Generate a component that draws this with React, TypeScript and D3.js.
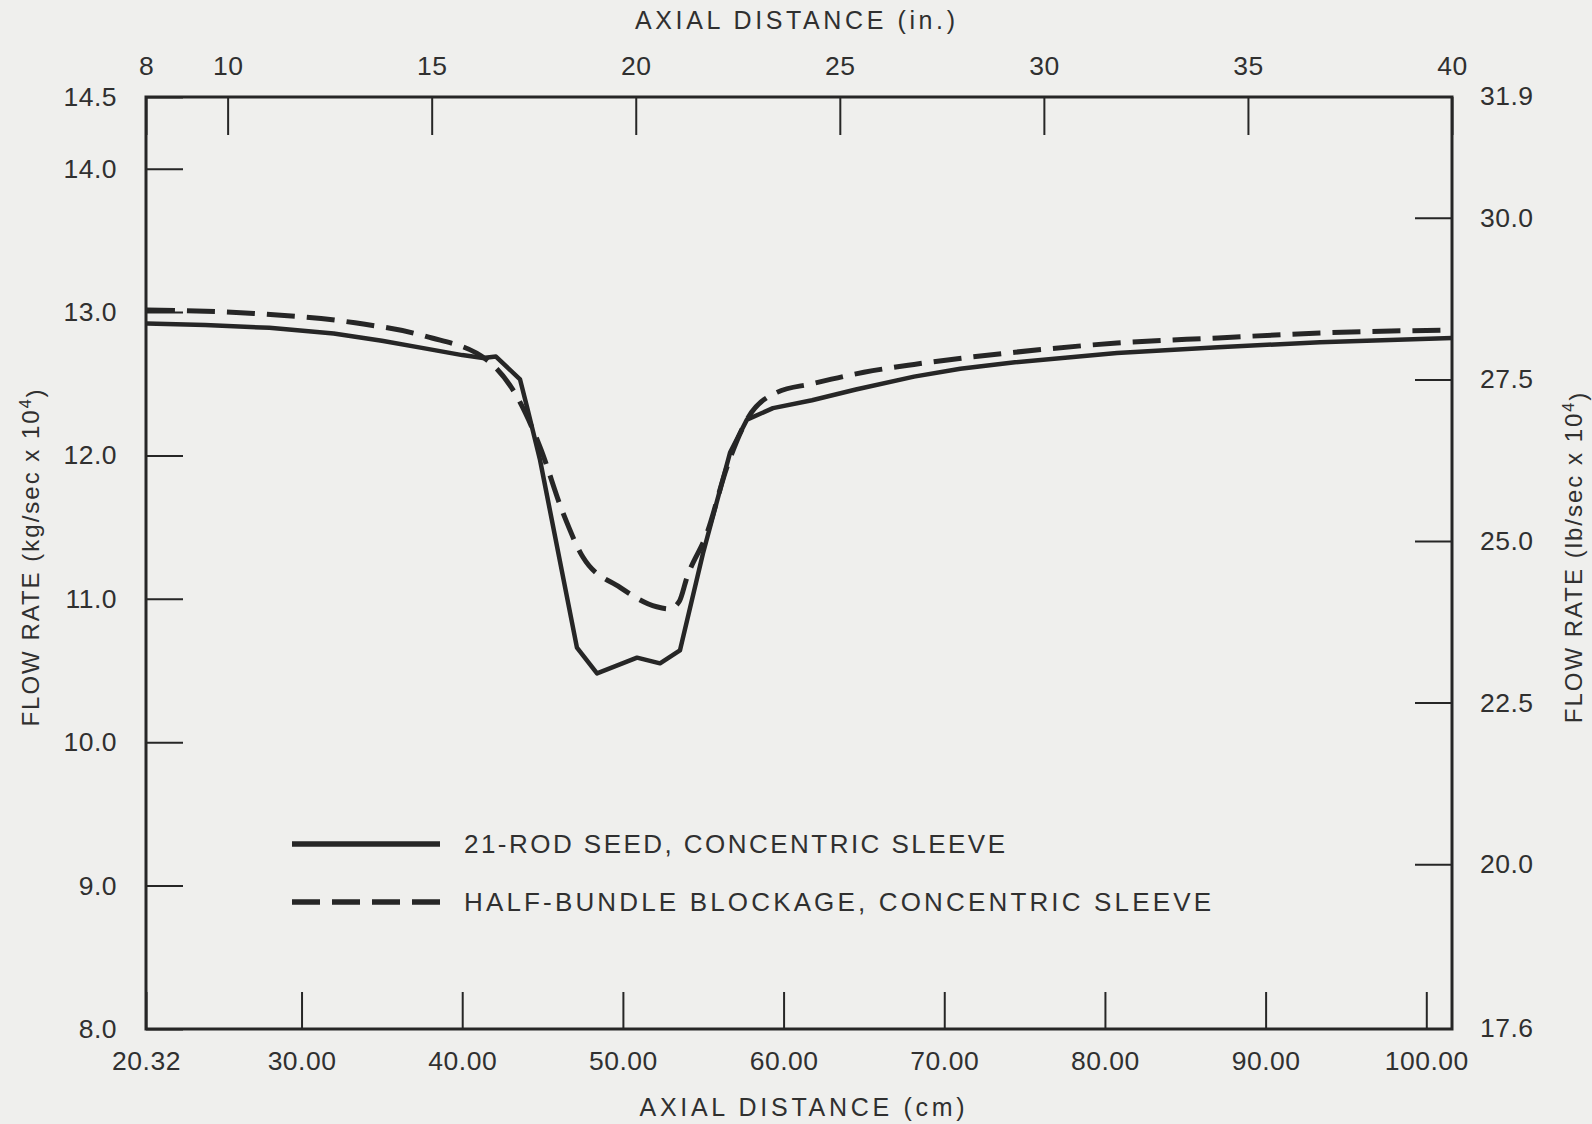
import React, { useEffect, useRef } from 'react';
import * as d3 from 'd3';

// axial distance in cm, flow rate in kg/sec x 10^4
const solidCm = [20.38, 24, 28, 32, 35, 37.75, 40, 41.3, 42.1, 43.6, 44.03, 44.84, 47.14, 48.39, 50.88, 52.31, 53.55, 54.99, 56.67, 57.72, 59.34, 61.77, 64.5, 68.12, 71, 74.4, 80.75, 87.04, 93.38, 101.6];
const solidKg = [12.92, 12.91, 12.89, 12.85, 12.8, 12.745, 12.7, 12.68, 12.69, 12.53, 12.34, 11.97, 10.66, 10.48, 10.59, 10.55, 10.64, 11.32, 12.02, 12.25, 12.33, 12.385, 12.46, 12.55, 12.605, 12.65, 12.715, 12.755, 12.79, 12.82];

const dashedCm = [20.38, 27.04, 33.33, 37.75, 41.54, 43.41, 44.84, 46.27, 47.52, 49.82, 52.1, 52.9, 53.5, 53.99, 55.24, 56.48, 57.72, 59.59, 61.77, 65, 68.12, 74.4, 80.75, 87.04, 93.38, 101.6];
const dashedKg = [13.015, 12.99, 12.925, 12.83, 12.666, 12.41, 12.06, 11.6, 11.29, 11.08, 10.945, 10.93, 10.98, 11.15, 11.46, 11.92, 12.25, 12.44, 12.5, 12.58, 12.635, 12.72, 12.784, 12.82, 12.854, 12.875];

const bottomTicks = [20.32, 30, 40, 50, 60, 70, 80, 90, 100];
const topTicks = [8, 10, 15, 20, 25, 30, 35, 40];
const leftTicks = [8, 9, 10, 11, 12, 13, 14, 14.5];
const rightTicks = [20, 22.5, 25, 27.5, 30];
const rightEnds = ['17.6', '31.9'];

const seriesNames = ['21-ROD SEED, CONCENTRIC SLEEVE', 'HALF-BUNDLE BLOCKAGE,  CONCENTRIC SLEEVE'];

const INK = '#262626';
const TEXT = '#303030';
const FONT = '"Liberation Sans", Arial, sans-serif';

const App = () => {
  const chartRef = useRef<HTMLDivElement>(null);

  useEffect(() => {
    const W = 1592, H = 1124;
    const left = 146, right = 1452, top = 97, bottom = 1029;

    const root = d3.select(chartRef.current);
    root.selectAll('*').remove();

    const svg = root.append('svg')
      .attr('width', W)
      .attr('height', H)
      .style('position', 'absolute')
      .style('left', 0)
      .style('top', 0)
      .style('font-family', FONT);

    svg.append('rect').attr('width', W).attr('height', H).attr('fill', '#efefed');

    // scales
    const x = d3.scaleLinear().domain([20.32, 101.6]).range([left, right]);
    const xIn = d3.scaleLinear().domain([8, 40]).range([left, right]);
    const y = d3.scaleLinear().domain([8, 14.5]).range([bottom, top]);
    const yLb = d3.scaleLinear().domain([17.45, 31.87]).range([bottom, top]);

    const styleAxis = g => {
      g.select('.domain').remove();
      g.selectAll('line').attr('stroke', INK).attr('stroke-width', 2);
      g.selectAll('text')
        .attr('fill', TEXT)
        .style('font-size', '26.5px')
        .style('font-family', FONT)
        .style('letter-spacing', '0.5px');
    };

    // bottom axis (cm)
    svg.append('g')
      .attr('transform', `translate(0, ${bottom})`)
      .call(d3.axisBottom(x).tickValues(bottomTicks).tickSize(-37).tickPadding(22).tickFormat(d3.format('.2f')))
      .call(styleAxis)
      .call(g => g.selectAll('text').attr('dy', '0.71em'));

    // top axis (in.)
    svg.append('g')
      .attr('transform', `translate(0, ${top})`)
      .call(d3.axisTop(xIn).tickValues(topTicks).tickSize(-38).tickPadding(22).tickFormat(d3.format('d')))
      .call(styleAxis);

    // left axis (kg/sec)
    svg.append('g')
      .attr('transform', `translate(${left}, 0)`)
      .call(d3.axisLeft(y).tickValues(leftTicks).tickSize(-37).tickPadding(29).tickFormat(d3.format('.1f')))
      .call(styleAxis);

    // right axis (lb/sec)
    const rg = svg.append('g')
      .attr('transform', `translate(${right}, 0)`)
      .call(d3.axisRight(yLb).tickValues(rightTicks).tickSize(-37).tickPadding(28).tickFormat(d3.format('.1f')))
      .call(styleAxis);
    rg.selectAll('.end')
      .data(rightEnds)
      .enter()
      .append('text')
      .attr('class', 'end')
      .attr('x', 28)
      .attr('y', (d, i) => yLb.range()[i])
      .attr('dy', '0.32em')
      .attr('fill', TEXT)
      .style('font-size', '26.5px')
      .style('letter-spacing', '0.5px')
      .text(d => d);

    // frame
    svg.append('rect')
      .attr('x', left).attr('y', top)
      .attr('width', right - left).attr('height', bottom - top)
      .attr('fill', 'none').attr('stroke', INK).attr('stroke-width', 3);

    // axis titles
    svg.append('text')
      .attr('x', 795).attr('y', 20)
      .attr('dy', '0.35em').attr('text-anchor', 'middle')
      .attr('textLength', 320).attr('lengthAdjust', 'spacing')
      .attr('fill', TEXT).style('font-size', '25px')
      .text('AXIAL DISTANCE (in.)');

    svg.append('text')
      .attr('x', 802).attr('y', 1107)
      .attr('dy', '0.35em').attr('text-anchor', 'middle')
      .attr('textLength', 325).attr('lengthAdjust', 'spacing')
      .attr('fill', TEXT).style('font-size', '25px')
      .text('AXIAL  DISTANCE (cm)');

    const yTitle = (cx, unit) => {
      const t = svg.append('text')
        .attr('transform', `translate(${cx}, 557) rotate(-90)`)
        .attr('text-anchor', 'middle')
        .attr('dy', '0.35em')
        .attr('fill', TEXT)
        .style('font-size', '24px')
        .style('letter-spacing', '2px');
      t.append('tspan').text(`FLOW RATE  (${unit} x 10`);
      t.append('tspan').attr('dy', '-0.5em').style('font-size', '16px').text('4');
      t.append('tspan').attr('dy', '0.5em').text(')');
    };
    yTitle(31, 'kg/sec');
    yTitle(1574, 'lb/sec');

    // curves
    const solid = solidCm.map((c, i) => [c, solidKg[i]]);
    const dashed = dashedCm.map((c, i) => [c, dashedKg[i]]);

    const solidLine = d3.line().x(d => x(d[0])).y(d => y(d[1])).curve(d3.curveLinear);
    const dashedLine = d3.line().x(d => x(d[0])).y(d => y(d[1])).curve(d3.curveMonotoneX);

    svg.append('path')
      .datum(solid)
      .attr('d', solidLine)
      .attr('fill', 'none')
      .attr('stroke', INK)
      .attr('stroke-width', 4.5)
      .attr('stroke-linejoin', 'round');

    svg.append('path')
      .datum(dashed)
      .attr('d', dashedLine)
      .attr('fill', 'none')
      .attr('stroke', INK)
      .attr('stroke-width', 5)
      .attr('stroke-dasharray', '28 12');

    // legend
    const legend = svg.append('g');
    const rows = [
      { y: 844, dash: null, len: 541 },
      { y: 902, dash: '28 12', len: 747 },
    ];
    rows.forEach((r, i) => {
      legend.append('line')
        .attr('x1', 292).attr('x2', 440)
        .attr('y1', r.y).attr('y2', r.y)
        .attr('stroke', INK).attr('stroke-width', 5.5)
        .attr('stroke-dasharray', r.dash);
      legend.append('text')
        .attr('x', 464).attr('y', r.y)
        .attr('dy', '0.35em')
        .attr('textLength', r.len).attr('lengthAdjust', 'spacing')
        .attr('fill', TEXT)
        .style('font-size', '26px')
        .text(seriesNames[i]);
    });

    return () => {
      d3.select(chartRef.current).selectAll('*').remove();
    };
  }, []);

  return <div ref={chartRef}></div>;
};

export default App;
